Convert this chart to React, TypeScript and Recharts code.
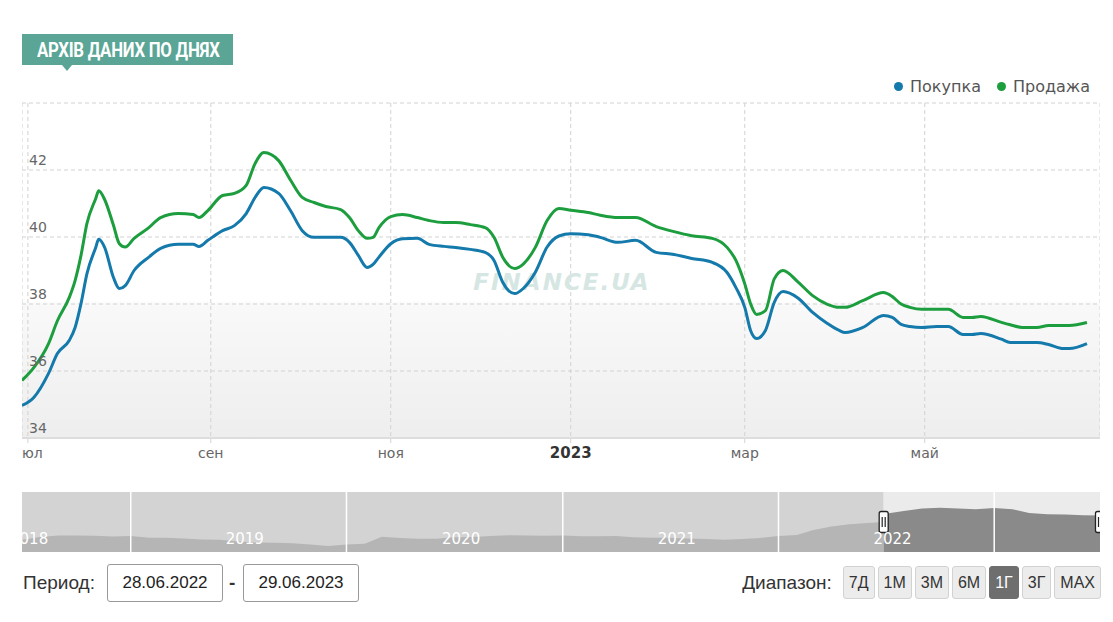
import React from 'react';
import {
  LineChart,
  Line,
  XAxis,
  YAxis,
  CartesianGrid,
  AreaChart,
  Area,
  ReferenceArea,
  ReferenceLine,
} from 'recharts';

// daily archive
const dates = [
  '2022-06-29', '2022-07-03', '2022-07-08', '2022-07-11', '2022-07-15', '2022-07-17', '2022-07-19',
  '2022-07-21', '2022-07-24', '2022-07-25', '2022-07-27', '2022-07-30', '2022-08-01', '2022-08-03',
  '2022-08-06', '2022-08-11', '2022-08-15', '2022-08-21', '2022-08-26', '2022-08-28', '2022-08-31',
  '2022-09-05', '2022-09-09', '2022-09-13', '2022-09-16', '2022-09-19', '2022-09-24', '2022-09-28',
  '2022-10-02', '2022-10-06', '2022-10-10', '2022-10-15', '2022-10-18', '2022-10-21', '2022-10-24',
  '2022-10-26', '2022-10-28', '2022-11-01', '2022-11-05', '2022-11-10', '2022-11-14', '2022-11-19',
  '2022-11-23', '2022-11-28', '2022-12-03', '2022-12-06', '2022-12-09', '2022-12-13', '2022-12-16',
  '2022-12-20', '2022-12-24', '2022-12-28', '2023-01-01', '2023-01-07', '2023-01-11', '2023-01-17',
  '2023-01-23', '2023-01-30', '2023-02-05', '2023-02-11', '2023-02-18', '2023-02-23', '2023-02-26',
  '2023-03-01', '2023-03-03', '2023-03-05', '2023-03-08', '2023-03-11', '2023-03-14', '2023-03-19',
  '2023-03-24', '2023-03-29', '2023-04-02', '2023-04-04', '2023-04-10', '2023-04-17', '2023-04-20',
  '2023-04-23', '2023-04-26', '2023-04-30', '2023-05-05', '2023-05-09', '2023-05-14', '2023-05-17',
  '2023-05-20', '2023-05-27', '2023-05-30', '2023-06-03', '2023-06-08', '2023-06-12', '2023-06-17',
  '2023-06-19', '2023-06-25',
];

const buyValues = [
  34.97, 35.21, 35.93, 36.52, 36.91, 37.3, 38.01,
  38.9, 39.69, 39.93, 39.69, 38.79, 38.46, 38.55,
  39.0, 39.4, 39.66, 39.78, 39.78, 39.72, 39.9,
  40.19, 40.34, 40.7, 41.18, 41.48, 41.3, 40.79,
  40.19, 39.99, 39.99, 39.99, 39.84, 39.45, 39.09,
  39.18, 39.4, 39.8, 39.95, 39.96, 39.78, 39.72,
  39.69, 39.63, 39.54, 39.3, 38.64, 38.31, 38.47,
  38.95, 39.7, 40.03, 40.1, 40.07, 39.99, 39.84,
  39.9, 39.54, 39.48, 39.36, 39.24, 38.94, 38.49,
  37.9, 37.2, 36.97, 37.21, 38.05, 38.37, 38.18,
  37.75, 37.42, 37.21, 37.15, 37.3, 37.66, 37.6,
  37.39, 37.33, 37.3, 37.33, 37.33, 37.09, 37.09,
  37.12, 36.95, 36.85, 36.85, 36.85, 36.79, 36.67,
  36.67, 36.82,
];

const sellValues = [
  35.72, 36.1, 36.82, 37.5, 38.19, 38.7, 39.45,
  40.4, 41.15, 41.38, 41.12, 40.35, 39.8, 39.7,
  39.96, 40.28, 40.58, 40.7, 40.67, 40.58, 40.79,
  41.24, 41.3, 41.54, 42.19, 42.52, 42.28, 41.7,
  41.18, 41.03, 40.91, 40.82, 40.58, 40.19, 39.96,
  39.99, 40.28, 40.61, 40.67, 40.58, 40.49, 40.43,
  40.43, 40.37, 40.28, 39.99, 39.39, 39.06, 39.2,
  39.69, 40.49, 40.85, 40.8, 40.73, 40.65, 40.58,
  40.58, 40.31, 40.16, 40.04, 39.96, 39.69, 39.3,
  38.6, 38.0, 37.69, 37.8, 38.75, 39.0, 38.66,
  38.25, 37.99, 37.9, 37.9, 38.1, 38.34, 38.22,
  38.0, 37.9, 37.84, 37.84, 37.84, 37.6, 37.6,
  37.63, 37.45, 37.38, 37.3, 37.3, 37.36, 37.36,
  37.36, 37.45,
];

const seriesNames = ['Покупка', 'Продажа'];
const seriesColors = ['#1479ab', '#1d9e3e'];

const xTickDates = ['2022-07-01', '2022-09-01', '2022-11-01', '2023-01-01', '2023-03-01', '2023-05-01'];
const xTickLabels = ['июл', 'сен', 'ноя', '2023', 'мар', 'май'];
const yTicks = [34, 36, 38, 40, 42, 44];
const yTickLabels = [34, 36, 38, 40, 42];

// navigator (whole history, monthly)
const navDates = [
  '2018-07-01', '2018-08-01', '2018-09-01', '2018-10-01', '2018-11-01', '2018-12-01',
  '2019-01-01', '2019-02-01', '2019-03-01', '2019-04-01', '2019-05-01', '2019-06-01',
  '2019-07-01', '2019-08-01', '2019-09-01', '2019-10-01', '2019-11-01', '2019-12-01',
  '2020-01-01', '2020-02-01', '2020-03-01', '2020-04-01', '2020-05-01', '2020-06-01',
  '2020-07-01', '2020-08-01', '2020-09-01', '2020-10-01', '2020-11-01', '2020-12-01',
  '2021-01-01', '2021-02-01', '2021-03-01', '2021-04-01', '2021-05-01', '2021-06-01',
  '2021-07-01', '2021-08-01', '2021-09-01', '2021-10-01', '2021-11-01', '2021-12-01',
  '2022-01-01', '2022-02-01', '2022-03-01', '2022-04-01', '2022-05-01', '2022-06-01',
  '2022-06-28', '2022-07-01', '2022-08-01', '2022-09-01', '2022-10-01', '2022-11-01',
  '2022-12-01', '2023-01-01', '2023-02-01', '2023-03-01', '2023-04-01', '2023-05-01',
  '2023-06-01', '2023-06-29',
];
const navValues = [
  26.3, 27.5, 28.2, 28.1, 28.0, 27.7,
  27.9, 27.2, 27.2, 26.8, 26.4, 26.3,
  25.6, 25.1, 25.0, 24.8, 24.2, 23.6,
  24.3, 24.6, 27.6, 27.1, 26.7, 26.7,
  27.4, 27.5, 27.9, 28.3, 28.2, 28.0,
  28.2, 27.8, 27.8, 27.9, 27.4, 27.2,
  27.2, 26.9, 26.6, 26.3, 26.6, 27.1,
  27.9, 28.4, 30.5, 32.0, 33.0, 33.6,
  34.0, 37.6, 38.8, 39.9, 40.2, 39.8,
  39.5, 40.1, 39.5, 37.9, 37.4, 37.3,
  36.9, 36.8,
];
const navYearStarts = ['2019-01-01', '2020-01-01', '2021-01-01', '2022-01-01', '2023-01-01'];
const navYearLabelDates = ['2018-07-13', '2019-07-13', '2020-07-13', '2021-07-13', '2022-07-13'];
const navYearLabels = ['2018', '2019', '2020', '2021', '2022'];

const periodFrom = '28.06.2022';
const periodTo = '29.06.2023';
const rangeButtons = ['7Д', '1М', '3М', '6М', '1Г', '3Г', 'MAX'];
const activeRange = '1Г';

const ts = (d: string) => new Date(d + 'T00:00:00Z').getTime();
const HOUR = 3600 * 1000;

const mainData = dates.map((d, i) => ({ t: ts(d), buy: buyValues[i], sell: sellValues[i] }));
const xDomain = [ts('2022-06-29'), ts('2023-06-29') + 10 * HOUR];

const selStart = ts('2022-06-28');
const navStart = ts('2018-07-01');
const navEnd = ts('2023-06-29');
const navData = navDates.map((d, i) => {
  const t = ts(d);
  return {
    t,
    before: t <= selStart ? navValues[i] : null,
    after: t >= selStart ? navValues[i] : null,
  };
});

const axisFont = '"DejaVu Sans", Verdana, sans-serif';
const uiFont = '"Liberation Sans", Arial, sans-serif';
const teal = '#5aa596';

function XTick(props: any) {
  const { x, y, payload } = props;
  const idx = xTickDates.findIndex((d) => ts(d) === payload.value);
  const label = idx >= 0 ? xTickLabels[idx] : '';
  const isYear = /^\d{4}$/.test(label);
  return (
    <text
      x={x}
      y={y + 13}
      textAnchor="middle"
      fontFamily={axisFont}
      fontSize={isYear ? 15 : 14}
      fontWeight={isYear ? 'bold' : 'normal'}
      fill={isYear ? '#333' : '#666'}
    >
      {label}
    </text>
  );
}

function YTick(props: any) {
  const { y, payload } = props;
  if (!yTickLabels.includes(payload.value)) return null;
  return (
    <text x={7} y={y - 5} textAnchor="start" fontFamily={axisFont} fontSize={14} fill="#666">
      {payload.value}
    </text>
  );
}

function Handle(props: any) {
  const x = props.x1;
  const cy = (props.y1 + props.y2) / 2;
  return (
    <g>
      <rect x={x - 4.5} y={cy - 10.5} width={9} height={21} rx={2} fill="#fff" stroke="#222" strokeWidth={1.3} />
      <line x1={x - 1.5} x2={x - 1.5} y1={cy - 5} y2={cy + 5} stroke="#222" strokeWidth={1.2} />
      <line x1={x + 1.5} x2={x + 1.5} y1={cy - 5} y2={cy + 5} stroke="#222" strokeWidth={1.2} />
    </g>
  );
}

export default function App() {
  return (
    <div style={{ position: 'relative', width: 1097, height: 606, fontFamily: uiFont }}>
      {/* header tab */}
      <div
        style={{
          position: 'absolute',
          left: 14,
          top: 26,
          width: 211,
          height: 31,
          background: teal,
          display: 'flex',
          alignItems: 'center',
          paddingLeft: 15,
          boxSizing: 'border-box',
          overflow: 'hidden',
        }}
      >
        <span
          style={{
            display: 'inline-block',
            whiteSpace: 'nowrap',
            color: '#fff',
            fontFamily: 'Roboto, sans-serif',
            fontWeight: 700,
            fontSize: 20,
            transform: 'scaleX(0.84)',
            transformOrigin: 'left center',
            letterSpacing: -0.3,
          }}
        >
          АРХІВ ДАНИХ ПО ДНЯХ
        </span>
      </div>
      <div
        style={{
          position: 'absolute',
          left: 54,
          top: 57,
          width: 0,
          height: 0,
          borderLeft: '5px solid transparent',
          borderRight: '5px solid transparent',
          borderTop: `6px solid ${teal}`,
        }}
      />

      {/* legend */}
      <div
        style={{
          position: 'absolute',
          right: 15,
          top: 68,
          height: 20,
          display: 'flex',
          alignItems: 'center',
          fontFamily: axisFont,
          fontSize: 16,
          color: '#555',
        }}
      >
        {seriesNames.map((name, i) => (
          <div key={name} style={{ display: 'flex', alignItems: 'center', marginLeft: i === 0 ? 0 : 16 }}>
            <span
              style={{
                width: 9,
                height: 9,
                borderRadius: '50%',
                background: seriesColors[i],
                display: 'inline-block',
                marginRight: 7,
              }}
            />
            <span>{name}</span>
          </div>
        ))}
      </div>

      {/* main chart */}
      <div style={{ position: 'absolute', left: 14, top: 62 }}>
        <LineChart width={1078} height={400} data={mainData} margin={{ top: 33, right: 0, bottom: 0, left: 0 }}>
          <defs>
            <linearGradient id="plotBg" x1="0" y1="0" x2="0" y2="1">
              <stop offset="0" stopColor="#ffffff" />
              <stop offset="0.59" stopColor="#ffffff" />
              <stop offset="0.6" stopColor="#f9f9f9" />
              <stop offset="1" stopColor="#eeeeee" />
            </linearGradient>
          </defs>
          <CartesianGrid stroke="#d2d2d2" strokeDasharray="4 3" fill="url(#plotBg)" fillOpacity={1} />
          <XAxis
            dataKey="t"
            type="number"
            domain={xDomain}
            allowDataOverflow
            ticks={xTickDates.map(ts)}
            interval={0}
            tick={<XTick />}
            height={32}
            axisLine={{ stroke: '#dddddd', strokeWidth: 2 }}
            tickLine={{ stroke: '#d2d2d2', strokeDasharray: '4 3' }}
            tickSize={5}
            tickMargin={2}
          />
          <YAxis
            type="number"
            domain={[34, 44]}
            ticks={yTicks}
            interval={0}
            mirror
            axisLine={false}
            tickLine={false}
            tick={<YTick />}
          />
          <text
            x={540}
            y={220}
            textAnchor="middle"
            fontFamily={axisFont}
            fontStyle="italic"
            fontWeight="bold"
            fontSize={23}
            letterSpacing={2}
            fill="#d6e6e3"
          >
            FINANCE.UA
          </text>
          <Line
            dataKey="buy"
            name={seriesNames[0]}
            type="monotone"
            stroke={seriesColors[0]}
            strokeWidth={3}
            dot={false}
            activeDot={false}
            isAnimationActive={false}
          />
          <Line
            dataKey="sell"
            name={seriesNames[1]}
            type="monotone"
            stroke={seriesColors[1]}
            strokeWidth={3}
            dot={false}
            activeDot={false}
            isAnimationActive={false}
          />
        </LineChart>
      </div>

      {/* navigator */}
      <div style={{ position: 'absolute', left: 14, top: 484 }}>
        <AreaChart width={1078} height={60} data={navData} margin={{ top: 0, right: 0, bottom: 0, left: 0 }}>
          <ReferenceArea x1={navStart} x2={selStart} fill="#d3d3d3" fillOpacity={1} stroke="none" />
          <ReferenceArea x1={selStart} x2={navEnd} fill="#ebebeb" fillOpacity={1} stroke="none" />
          <XAxis dataKey="t" type="number" domain={[navStart, navEnd]} allowDataOverflow hide />
          <YAxis hide domain={[21, 47]} allowDataOverflow />
          <Area
            dataKey="before"
            type="linear"
            stroke="none"
            fill="#b5b5b5"
            fillOpacity={1}
            isAnimationActive={false}
            activeDot={false}
          />
          <Area
            dataKey="after"
            type="linear"
            stroke="none"
            fill="#8a8a8a"
            fillOpacity={1}
            isAnimationActive={false}
            activeDot={false}
          />
          {navYearStarts.map((d) => (
            <ReferenceLine key={d} x={ts(d)} stroke="#ffffff" strokeWidth={1.5} />
          ))}
          {navYearLabelDates.map((d, i) => (
            <ReferenceLine
              key={d}
              x={ts(d)}
              stroke="none"
              label={{
                value: navYearLabels[i],
                position: 'insideBottom',
                offset: 8,
                fill: '#ffffff',
                fontSize: 15,
                fontFamily: axisFont,
              }}
            />
          ))}
          <ReferenceLine x={selStart} stroke="#222" shape={<Handle />} />
          <ReferenceLine x={navEnd} stroke="#222" shape={<Handle />} />
        </AreaChart>
      </div>

      {/* period inputs */}
      <div
        style={{
          position: 'absolute',
          left: 15,
          top: 556,
          height: 38,
          display: 'flex',
          alignItems: 'center',
          fontSize: 19,
          color: '#333',
        }}
      >
        Период:
      </div>
      {[periodFrom, periodTo].map((v, i) => (
        <div
          key={v}
          style={{
            position: 'absolute',
            left: i === 0 ? 99 : 235,
            top: 556,
            width: 116,
            height: 38,
            border: '1px solid #999',
            borderRadius: 3,
            boxSizing: 'border-box',
            display: 'flex',
            alignItems: 'center',
            justifyContent: 'center',
            fontSize: 17,
            color: '#222',
          }}
        >
          {v}
        </div>
      ))}
      <div
        style={{
          position: 'absolute',
          left: 221,
          top: 556,
          height: 38,
          display: 'flex',
          alignItems: 'center',
          fontSize: 19,
          fontWeight: 'bold',
          color: '#333',
        }}
      >
        -
      </div>

      {/* range buttons */}
      <div
        style={{
          position: 'absolute',
          right: 4,
          top: 558,
          height: 33,
          display: 'flex',
          alignItems: 'center',
        }}
      >
        <span style={{ fontSize: 19, color: '#333', marginRight: 11 }}>Диапазон:</span>
        {rangeButtons.map((b, i) => {
          const active = b === activeRange;
          return (
            <div
              key={b}
              style={{
                height: 33,
                padding: '0 5px',
                marginLeft: i === 0 ? 0 : 3,
                border: `1px solid ${active ? '#6e6e6e' : '#d2d2d2'}`,
                background: active ? '#6e6e6e' : '#ececec',
                color: active ? '#fff' : '#333',
                borderRadius: 3,
                boxSizing: 'border-box',
                display: 'flex',
                alignItems: 'center',
                fontSize: 16,
              }}
            >
              {b}
            </div>
          );
        })}
      </div>
    </div>
  );
}
